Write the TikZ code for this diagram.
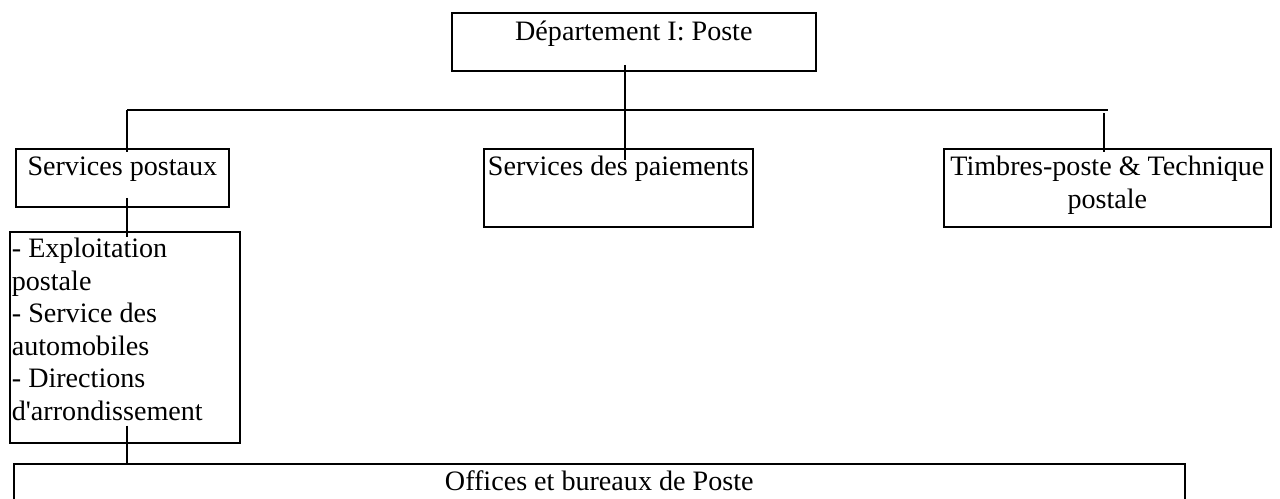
\documentclass[tikz,border=0pt]{standalone}
\usepackage{fontspec}
\setmainfont{Liberation Serif}
\usetikzlibrary{calc}

\tikzset{
  orgbox/.style={draw, line width=1pt, inner sep=0pt, anchor=north west,
    font=\fontsize{16}{18.5}\selectfont, text height=0.54cm},
  link/.style={line width=1pt}
}

\begin{document}
\begin{tikzpicture}[x=0.02cm, y=-0.02cm]
\useasboundingbox (0,0) rectangle (1280,498);
\clip (0,0) rectangle (1280,498);
% the department on top, then one row for the three services
\node[orgbox, minimum width=7.28cm, text height=0.56cm, text depth=0.60cm]
  (dept) at (451,12) {Département I: Poste};
\node[orgbox, minimum width=4.26cm, text depth=0.62cm]
  (post) at (15,148) {Services postaux};
\node[orgbox, minimum width=5.38cm, text depth=1.02cm]
  (pay) at (483,148) {Services des paiements};
\node[orgbox, text width=6.54cm, align=flush center, text depth=1.02cm]
  (timb) at (943,148) {Timbres-poste \& Technique\\postale};
% below the postal services
\node[orgbox, text width=4.52cm, inner xsep=0.04cm, align=flush left,
  text height=0.52cm, text depth=3.70cm]
  (expl) at (9,231) {- Exploitation\\postale\\- Service des\\automobiles\\- Directions\\d\textquotesingle arrondissement};
\node[orgbox, minimum width=23.42cm, text depth=0.66cm]
  (off) at (13,463) {Offices et bureaux de Poste};

% the bar that joins the services
\coordinate (busL) at (127,110);
\coordinate (busR) at (1108,110);
\draw[link] (busL) -- (busR);
\draw[link] ($(dept.south)+(-9,-7)$) -- ($(dept.south |- pay.north)+(-9,12)$);
\draw[link] (busL) -- ($(busL |- post.north)+(0,4)$);
\draw[link] ($(busR)+(-4,3)$) -- ($(busR |- timb.north)+(-4,4)$);
\draw[link] ($(busL |- post.south)+(0,-10)$) -- ($(busL |- expl.north)+(0,6)$);
\draw[link] ($(busL |- expl.south)+(0,-18)$) -- (busL |- off.north);
\end{tikzpicture}
\end{document}
